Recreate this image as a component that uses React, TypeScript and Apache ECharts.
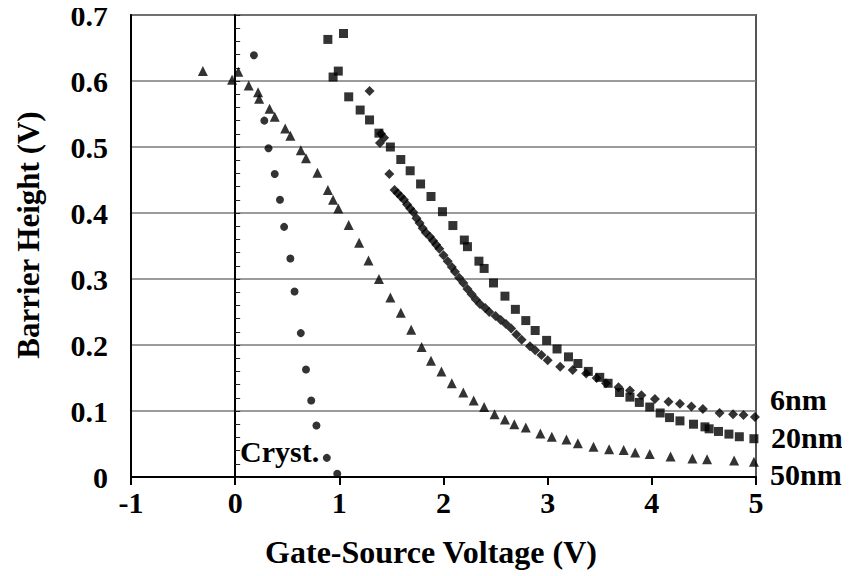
import React, { useEffect, useRef } from "react";
import * as echarts from "echarts";

// Gate-source voltage (V) vs. barrier height (V)
const crystPoints: [number, number][] = [
  [0.18, 0.639], [0.28, 0.54], [0.32, 0.498], [0.38, 0.459], [0.43, 0.42],
  [0.47, 0.379], [0.53, 0.331], [0.57, 0.281], [0.63, 0.218], [0.68, 0.163],
  [0.73, 0.116], [0.78, 0.078], [0.88, 0.029], [0.98, 0.005],
];

const nm50Points: [number, number][] = [
  [-0.31, 0.615], [-0.03, 0.602], [0.03, 0.614], [0.13, 0.593], [0.22, 0.583],
  [0.23, 0.573], [0.33, 0.558], [0.38, 0.546], [0.48, 0.528], [0.53, 0.517],
  [0.63, 0.495], [0.68, 0.483], [0.79, 0.461], [0.89, 0.435], [0.94, 0.42],
  [0.99, 0.407], [1.09, 0.382], [1.19, 0.355], [1.28, 0.328], [1.38, 0.3],
  [1.49, 0.272], [1.59, 0.249], [1.69, 0.223], [1.79, 0.197], [1.88, 0.176],
  [1.98, 0.16], [2.08, 0.142], [2.19, 0.128], [2.29, 0.116], [2.39, 0.106],
  [2.49, 0.095], [2.59, 0.087], [2.68, 0.08], [2.79, 0.075], [2.93, 0.066],
  [3.04, 0.061], [3.18, 0.057], [3.29, 0.051], [3.44, 0.046], [3.59, 0.042],
  [3.73, 0.041], [3.84, 0.037], [3.98, 0.035], [4.18, 0.031], [4.39, 0.028],
  [4.53, 0.027], [4.79, 0.025], [4.98, 0.023],
];

const nm20Points: [number, number][] = [
  [0.89, 0.663], [1.04, 0.672], [0.94, 0.606], [0.99, 0.615], [1.09, 0.576],
  [1.2, 0.556], [1.29, 0.541], [1.38, 0.521], [1.49, 0.5], [1.59, 0.481],
  [1.68, 0.464], [1.78, 0.444], [1.88, 0.425], [1.99, 0.402], [2.09, 0.381],
  [2.2, 0.359], [2.23, 0.349], [2.34, 0.327], [2.39, 0.316], [2.48, 0.294],
  [2.59, 0.274], [2.69, 0.254], [2.79, 0.237], [2.88, 0.222], [2.99, 0.207],
  [3.09, 0.194], [3.2, 0.182], [3.29, 0.172], [3.39, 0.16], [3.5, 0.151],
  [3.58, 0.142], [3.69, 0.128], [3.79, 0.121], [3.88, 0.113], [3.98, 0.106],
  [4.08, 0.097], [4.17, 0.09], [4.27, 0.085], [4.4, 0.08], [4.51, 0.076],
  [4.55, 0.073], [4.64, 0.069], [4.74, 0.065], [4.84, 0.061], [4.98, 0.058],
];

const nm6Points: [number, number][] = [
  [1.29, 0.585], [1.4, 0.52], [1.43, 0.514], [1.39, 0.506], [1.48, 0.459],
  [1.53, 0.435], [1.56, 0.43], [1.59, 0.425], [1.62, 0.42], [1.65, 0.413],
  [1.68, 0.407], [1.71, 0.401], [1.74, 0.392], [1.77, 0.385], [1.8, 0.377],
  [1.83, 0.37], [1.87, 0.364], [1.9, 0.358], [1.93, 0.352], [1.96, 0.346],
  [2.0, 0.336], [2.04, 0.327], [2.08, 0.318], [2.11, 0.311], [2.15, 0.302],
  [2.19, 0.294], [2.23, 0.285], [2.27, 0.277], [2.31, 0.269], [2.35, 0.262],
  [2.4, 0.256], [2.44, 0.25], [2.5, 0.244], [2.55, 0.238], [2.6, 0.232],
  [2.65, 0.225], [2.7, 0.216], [2.75, 0.208], [2.83, 0.198], [2.88, 0.192],
  [2.94, 0.185], [3.0, 0.177], [3.12, 0.167], [3.24, 0.162], [3.37, 0.157],
  [3.47, 0.15], [3.56, 0.142], [3.68, 0.136], [3.79, 0.131], [3.9, 0.124],
  [4.03, 0.118], [4.16, 0.114], [4.27, 0.111], [4.38, 0.107], [4.49, 0.103],
  [4.65, 0.097], [4.78, 0.095], [4.88, 0.094], [4.99, 0.091],
];

const seriesNames = ["Cryst.", "50nm", "20nm", "6nm"];
const xTicks = { min: -1, max: 5, interval: 1 };
const yTicks = { min: 0, max: 0.7, interval: 0.1 };

const FONT = "'Liberation Serif', 'Times New Roman', serif";
const W = 850;
const H = 576;

export default function App() {
  const ref = useRef<HTMLDivElement>(null);

  useEffect(() => {
    if (!ref.current) return;
    const chart = echarts.init(ref.current, undefined, { renderer: "svg" });
    const black = "#000";
    const labelStyle = {
      fontFamily: FONT,
      fontWeight: "bold" as const,
      fontSize: 30,
      color: black,
    };
    chart.setOption({
      animation: false,
      backgroundColor: "#fff",
      grid: {
        left: 131,
        right: W - 756,
        top: 15,
        bottom: H - 477,
        containLabel: false,
        outerBoundsMode: "none",
        show: true,
        borderColor: "#555",
        borderWidth: 2,
      },
      xAxis: {
        type: "value",
        min: xTicks.min,
        max: xTicks.max,
        interval: xTicks.interval,
        name: "Gate-Source Voltage (V)",
        nameLocation: "middle",
        nameGap: 59,
        nameTextStyle: { ...labelStyle, fontSize: 32, padding: [0, 25, 0, 0] },
        axisLine: { onZero: false, lineStyle: { color: black, width: 2 } },
        axisTick: { show: true, length: 8, lineStyle: { color: black, width: 2 } },
        axisLabel: { ...labelStyle, margin: 10 },
        splitLine: { show: false },
      },
      yAxis: [
        {
          type: "value",
          min: yTicks.min,
          max: yTicks.max,
          interval: yTicks.interval,
          name: "Barrier Height (V)",
          nameLocation: "middle",
          nameGap: 87,
          nameRotate: 90,
          nameTextStyle: { ...labelStyle, fontSize: 31, padding: [0, 0, 0, 22] },
          axisLine: { show: true, onZero: false, lineStyle: { color: black, width: 2 } },
          axisTick: { show: false },
          axisLabel: { ...labelStyle, margin: 23, formatter: (v: number) => (v === 0 ? "0" : v.toFixed(1)) },
          splitLine: { show: true, lineStyle: { color: "#7a7a7a", width: 1.5 } },
        },
        {
          type: "value",
          min: yTicks.min,
          max: yTicks.max,
          interval: yTicks.interval,
          position: "left",
          axisLine: { show: true, onZero: true, lineStyle: { color: black, width: 2 } },
          axisTick: { show: true, inside: true, length: 5, lineStyle: { color: "#222", width: 1 } },
          minorTick: { show: true, splitNumber: 5, length: 5, lineStyle: { color: "#222", width: 1 } },
          axisLabel: { show: false },
          splitLine: { show: false },
        },
      ],
      series: [
        {
          name: seriesNames[0],
          type: "scatter",
          data: crystPoints,
          symbol: "circle",
          symbolSize: 8,
          itemStyle: { color: black },
        },
        {
          name: seriesNames[1],
          type: "scatter",
          data: nm50Points,
          symbol: "triangle",
          symbolSize: 10,
          itemStyle: { color: black },
        },
        {
          name: seriesNames[2],
          type: "scatter",
          data: nm20Points,
          symbol: "rect",
          symbolSize: 9,
          itemStyle: { color: black },
        },
        {
          name: seriesNames[3],
          type: "scatter",
          data: nm6Points,
          symbol: "diamond",
          symbolSize: 10,
          itemStyle: { color: black },
        },
      ],
      graphic: [
        { type: "text", x: 240, y: 451, style: { text: seriesNames[0], font: `bold 30px ${FONT}`, fill: black, verticalAlign: "middle" } },
        { type: "text", x: 770, y: 399, style: { text: seriesNames[3], font: `bold 30px ${FONT}`, fill: black, verticalAlign: "middle" } },
        { type: "text", x: 771, y: 437, style: { text: seriesNames[2], font: `bold 30px ${FONT}`, fill: black, verticalAlign: "middle" } },
        { type: "text", x: 770, y: 474, style: { text: seriesNames[1], font: `bold 30px ${FONT}`, fill: black, verticalAlign: "middle" } },
      ],
    });
    return () => chart.dispose();
  }, []);

  return <div ref={ref} style={{ width: W, height: H, marginLeft: -8, marginTop: -8 }} />;
}
